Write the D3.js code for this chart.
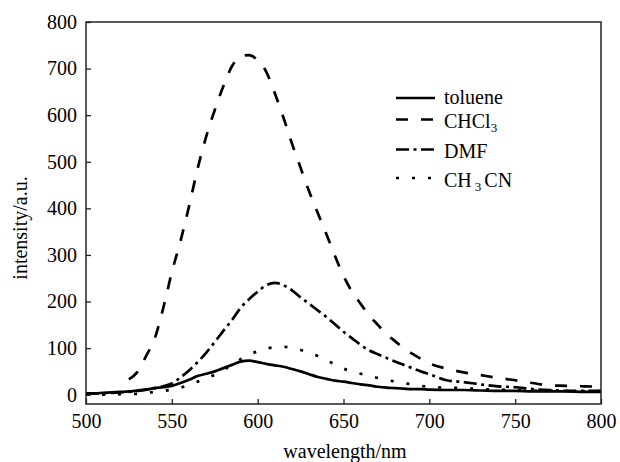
<!DOCTYPE html>
<html lang="en">
<head>
    <meta charset="UTF-8">
    <title>Emission spectra</title>
    <style>
        * {
            margin: 0;
            padding: 0;
        }

        body {
            background: #fff;
        }
    </style>
</head>
<body>

<div id="container"></div>

<script src="https://cdn.jsdelivr.net/npm/d3@7/dist/d3.min.js"></script>

<script>

    "use strict";

    // wavelength grid (nm)
    var wavelengths = [500, 505, 510, 515, 520, 525, 530, 535, 540, 545, 550, 555, 560, 565, 570, 575, 580, 585, 590, 595,
        600, 605, 610, 615, 620, 625, 630, 635, 640, 645, 650, 655, 660, 665, 670, 675, 680, 685, 690, 695,
        700, 710, 720, 730, 740, 750, 760, 770, 780, 790, 800];

    // intensity (a.u.) per solvent
    var toluene = [3, 3, 4, 5, 6, 7, 9, 11, 14, 16, 19, 25, 32, 40, 45, 50, 57, 64, 71, 73,
        70, 66, 63, 60, 55, 50, 44, 38, 34, 30, 28, 25, 22, 20, 17, 15, 14, 13, 12, 12,
        11, 10, 10, 9, 8, 8, 7, 7, 7, 6, 6];

    var chcl3 = [null, null, null, null, null, 33, 49, 83, 120, 186, 263, 329, 404, 485, 554, 611, 662, 705, 726, 729,
        718, 693, 647, 595, 539, 487, 436, 390, 345, 298, 255, 221, 195, 170, 150, 130, 115, 100, 88, 77,
        67, 56, 48, 42, 36, 31, 25, 20, 19, 18, 17];

    var dmf = [3, 3, 3, 4, 5, 6, 8, 11, 14, 18, 24, 37, 52, 70, 90, 113, 137, 160, 186, 205,
        221, 235, 240, 235, 224, 209, 195, 181, 167, 151, 135, 121, 107, 95, 87, 79, 71, 64, 57, 50,
        44, 31, 27, 22, 18, 16, 12, 10, 8, 8, 9];

    var ch3cn = [0, 0, 0, 0, 1, 1, 2, 4, 6, 8, 11, 15, 21, 28, 35, 43, 53, 64, 76, 86,
        93, 99, 102, 103, 100, 96, 90, 83, 74, 65, 56, 50, 45, 41, 36, 32, 28, 25, 22, 19,
        17, 15, 14, 12, 11, 10, 9, 8, 8, 7, 7];

    var xTicks = [500, 550, 600, 650, 700, 750, 800];
    var yTicks = [0, 100, 200, 300, 400, 500, 600, 700, 800];

    (function() {

        var width = 620,
            height = 462,
            margin = {top: 22, right: 19, bottom: 58, left: 86},
            serif = '"Liberation Serif", "DejaVu Serif", serif';

        var innerW = width - margin.left - margin.right,
            innerH = height - margin.top - margin.bottom;

        var svg = d3.select('#container')
            .append('svg')
            .attr('width', width)
            .attr('height', height)
            .attr('font-family', serif);

        var main = svg.append('g')
            .attr('transform', 'translate(' + margin.left + ',' + margin.top + ')');

        var x = d3.scaleLinear()
            .domain([500, 800])
            .range([0, innerW]);

        var y = d3.scaleLinear()
            .domain([-20, 800])
            .range([innerH, 0]);

        // series + line styles
        var series = [
            {name: 'toluene', sub: null, values: toluene, dash: null},
            {name: 'CHCl', sub: '3', tail: '', values: chcl3, dash: '12,13'},
            {name: 'DMF', sub: null, values: dmf, dash: '13,4.5,3,4.5'},
            {name: 'CH', sub: '3', tail: 'CN', values: ch3cn, dash: '3,13'}
        ];

        var line = d3.line()
            .defined(function(d) { return d[1] !== null; })
            .x(function(d) { return x(d[0]); })
            .y(function(d) { return y(d[1]); })
            .curve(d3.curveMonotoneX);

        main.selectAll('path.curve')
            .data(series)
            .enter()
            .append('path')
            .attr('class', 'curve')
            .attr('d', function(s) {
                return line(wavelengths.map(function(w, i) { return [w, s.values[i]]; }));
            })
            .attr('fill', 'none')
            .attr('stroke', '#000')
            .attr('stroke-width', 2.7)
            .attr('stroke-dasharray', function(s) { return s.dash; });

        // axes, ticks pointing inward
        var xAxis = main.append('g')
            .attr('transform', 'translate(0,' + innerH + ')')
            .call(d3.axisBottom(x).tickValues(xTicks).tickSizeInner(-5).tickSizeOuter(0).tickPadding(10));

        var yAxis = main.append('g')
            .call(d3.axisLeft(y).tickValues(yTicks).tickSizeInner(-5).tickSizeOuter(0).tickPadding(9));

        [xAxis, yAxis].forEach(function(a) {
            a.attr('font-family', serif).attr('font-size', 20);
            a.selectAll('text').style('font-family', serif).attr('fill', '#000');
            a.selectAll('line').attr('stroke', '#222').attr('stroke-width', 1.3);
            a.select('.domain').remove();
        });

        main.append('rect')
            .attr('width', innerW)
            .attr('height', innerH)
            .attr('fill', 'none')
            .attr('stroke', '#222')
            .attr('stroke-width', 1.5);

        // axis titles
        svg.append('text')
            .attr('x', 345)
            .attr('y', 458)
            .attr('text-anchor', 'middle')
            .style('font-family', serif)
            .style('font-size', '20px')
            .text('wavelength/nm');

        svg.append('text')
            .attr('transform', 'translate(27,228) rotate(-90)')
            .attr('text-anchor', 'middle')
            .style('font-family', serif)
            .style('font-size', '20px')
            .text('intensity/a.u.');

        // legend
        var rowY = [98, 119.5, 149.5, 178];

        var legend = svg.append('g')
            .selectAll('g')
            .data(series)
            .enter()
            .append('g')
            .attr('transform', function(d, i) { return 'translate(396,' + rowY[i] + ')'; });

        legend.append('line')
            .attr('x1', 0)
            .attr('x2', 39)
            .attr('stroke', '#000')
            .attr('stroke-width', 2.7)
            .attr('stroke-dasharray', function(s) { return s.dash; });

        var label = legend.append('text')
            .attr('x', 48)
            .attr('y', function(d, i) { return i === 0 ? 5.5 : 8.5; })
            .style('font-family', serif)
            .style('font-size', '20px');

        label.append('tspan').text(function(s) { return s.name; });

        label.filter(function(s) { return s.sub; })
            .append('tspan')
            .attr('dx', function(s) { return s.tail ? 3 : 0; })
            .attr('dy', 4)
            .style('font-size', '13px')
            .text(function(s) { return s.sub; });

        label.filter(function(s) { return s.tail; })
            .append('tspan')
            .attr('dx', 3)
            .attr('dy', -4)
            .text(function(s) { return s.tail; });

    })();

</script>
</body>
</html>
